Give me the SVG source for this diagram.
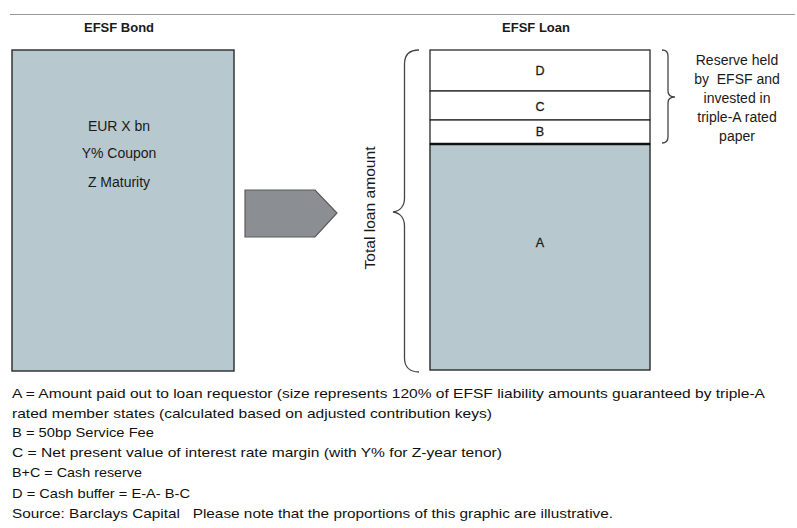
<svg xmlns="http://www.w3.org/2000/svg" width="797" height="528" viewBox="0 0 797 528">
  <style>
    .hdr { font-family: "Liberation Sans", Arial, sans-serif; font-size: 13px; font-weight: bold; fill: #1a1a1a; text-anchor: middle; }
    .lbl { font-family: "Liberation Sans", Arial, sans-serif; font-size: 14px; fill: #1a1a1a; text-anchor: middle; }
    .seg { font-family: "Liberation Sans", Arial, sans-serif; font-size: 12.5px; fill: #1a1a1a; text-anchor: middle; stroke: #1a1a1a; stroke-width: 0.3; }
    .note { font-family: "Liberation Sans", Arial, sans-serif; font-size: 13.5px; fill: #111; }
    .box { fill: #b7c8ce; stroke: #2a2a2a; stroke-width: 1.4; }
    .white { fill: #ffffff; stroke: #2a2a2a; stroke-width: 1.3; }
    .brace { fill: none; stroke: #444; stroke-width: 1.3; }
  </style>
  <rect x="0" y="0" width="797" height="528" fill="#ffffff"/>
  <line x1="10" y1="14.5" x2="795" y2="14.5" stroke="#9a9a9a" stroke-width="1.2"/>
  <text class="hdr" x="119" y="32">EFSF Bond</text>
  <text class="hdr" x="536" y="32">EFSF Loan</text>

  <g id="bond">
    <rect class="box" x="12" y="50" width="222" height="321"/>
    <text class="lbl" x="119" y="131">EUR X bn</text>
    <text class="lbl" x="119" y="158">Y% Coupon</text>
    <text class="lbl" x="119" y="187">Z Maturity</text>
  </g>

  <g id="loan">
    <rect class="white" x="430" y="50" width="220" height="41"/>
    <rect class="white" x="430" y="91" width="220" height="29"/>
    <rect class="white" x="430" y="120" width="220" height="24"/>
    <rect class="box" x="430" y="144" width="220" height="226"/>
    <line x1="430" y1="144" x2="650" y2="144" stroke="#111" stroke-width="2.6"/>
    <text class="seg" x="540" y="75">D</text>
    <text class="seg" x="540" y="111">C</text>
    <text class="seg" x="540" y="136">B</text>
    <text class="seg" x="540" y="247">A</text>
  </g>

  <g id="total-brace">
    <path class="brace" d="M 419 50 C 410 50 404.5 54 404.5 64 L 404.5 198 C 404.5 206 400 211 393 212 C 400 213 404.5 218 404.5 226 L 404.5 358 C 404.5 367 410 372 419 372"/>
    <text class="lbl" x="375" y="208" transform="rotate(-90 375 208)" textLength="123" lengthAdjust="spacingAndGlyphs">Total loan amount</text>
  </g>

  <g id="reserve-brace">
    <path class="brace" d="M 662 50 C 666 50 668 52 668 56 L 668 91 C 668 94 670 97 675 97 C 670 97 668 100 668 103 L 668 137 C 668 141 666 143 662 143"/>
    <text class="lbl" x="737" y="65">Reserve held</text>
    <text class="lbl" x="737" y="84">by&#160; EFSF and</text>
    <text class="lbl" x="737" y="103">invested in</text>
    <text class="lbl" x="737" y="122">triple-A rated</text>
    <text class="lbl" x="737" y="141">paper</text>
  </g>

  <g id="connectors">
    <polygon points="245,190 315,190 337,213 315,237 245,237" fill="#8b8f94" stroke="#5a5a5a" stroke-width="1.2"/>
  </g>

  <g id="notes">
    <text class="note" x="12" y="398" textLength="753" lengthAdjust="spacingAndGlyphs">A = Amount paid out to loan requestor (size represents 120% of EFSF liability amounts guaranteed by triple-A</text>
    <text class="note" x="12" y="418" textLength="480" lengthAdjust="spacingAndGlyphs">rated member states (calculated based on adjusted contribution keys)</text>
    <text class="note" x="12" y="437" textLength="142" lengthAdjust="spacingAndGlyphs">B = 50bp Service Fee</text>
    <text class="note" x="12" y="457" textLength="490" lengthAdjust="spacingAndGlyphs">C = Net present value of interest rate margin (with Y% for Z-year tenor)</text>
    <text class="note" x="12" y="477" textLength="130" lengthAdjust="spacingAndGlyphs">B+C = Cash reserve</text>
    <text class="note" x="12" y="498" textLength="178" lengthAdjust="spacingAndGlyphs">D = Cash buffer = E-A- B-C</text>
    <text class="note" x="12" y="518" textLength="601" lengthAdjust="spacingAndGlyphs">Source: Barclays Capital&#160;&#160; Please note that the proportions of this graphic are illustrative.</text>
  </g>
</svg>
